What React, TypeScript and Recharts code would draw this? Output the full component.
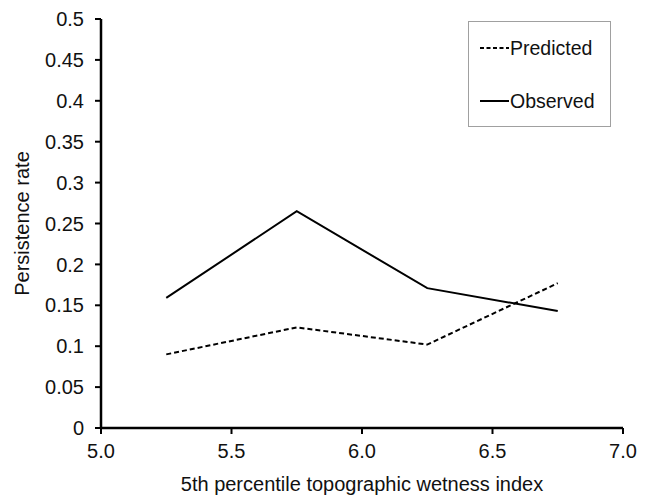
import { Line, LineChart, XAxis, YAxis } from "recharts";

const WETNESS = [5.25, 5.75, 6.25, 6.75];
const PREDICTED = [0.09, 0.123, 0.102, 0.177];
const OBSERVED = [0.159, 0.265, 0.171, 0.143];
const X_TICKS = [5, 5.5, 6, 6.5, 7];
const Y_TICKS = [0, 0.05, 0.1, 0.15, 0.2, 0.25, 0.3, 0.35, 0.4, 0.45, 0.5];
const SERIES = [
  { key: "predicted", name: "Predicted", dashed: true },
  { key: "observed", name: "Observed", dashed: false },
];

const FONT = "'Liberation Sans', Arial, sans-serif";
const DASH = "5 3";

const data = WETNESS.map((x, i) => ({ x, predicted: PREDICTED[i], observed: OBSERVED[i] }));

// legend drawn as a plain box over the plot, like the original
function LegendBox() {
  return (
    <div
      style={{
        position: "absolute", left: 468, top: 21, width: 141, height: 104,
        border: "1px solid #a0a0a0", background: "#fff",
        fontFamily: FONT, fontSize: 19.5, color: "#111",
      }}
    >
      {SERIES.map((s, i) => (
        <div key={s.key} style={{ position: "absolute", left: 11, top: 14 + i * 53, height: 24, display: "flex", alignItems: "center" }}>
          <svg width={29} height={4} style={{ display: "block" }}>
            <line x1={0} y1={2} x2={29} y2={2} stroke="#000" strokeWidth={2} strokeDasharray={s.dashed ? "4 2.5" : undefined} />
          </svg>
          <span style={{ marginLeft: 1 }}>{s.name}</span>
        </div>
      ))}
    </div>
  );
}

export default function App() {
  const tickStyle = { fill: "#111", fontSize: 20, fontFamily: FONT };
  return (
    <div style={{ position: "absolute", left: 0, top: 0, width: 651, height: 497, background: "#fff" }}>
      <LineChart width={651} height={497} data={data} margin={{ top: 19, right: 28, bottom: 0, left: 0 }}>
        <XAxis
          dataKey="x" type="number" domain={[5, 7]} ticks={X_TICKS}
          tickFormatter={(v: number) => v.toFixed(1)}
          height={69} tickSize={6} tickMargin={10}
          axisLine={{ stroke: "#000", strokeWidth: 2.5 }}
          tickLine={{ stroke: "#000", strokeWidth: 2 }}
          tick={tickStyle}
          label={{ value: "5th percentile topographic wetness index", position: "insideBottom", offset: 6, ...tickStyle }}
        />
        <YAxis
          type="number" domain={[0, 0.5]} ticks={Y_TICKS} width={101}
          tickSize={6} tickMargin={11}
          axisLine={{ stroke: "#000", strokeWidth: 2.5 }}
          tickLine={{ stroke: "#000", strokeWidth: 2 }}
          tick={tickStyle}
          label={{ value: "Persistence rate", angle: -90, position: "insideLeft", offset: 22, ...tickStyle, style: { textAnchor: "middle" } }}
        />
        {SERIES.map(s => (
          <Line
            key={s.key} dataKey={s.key} name={s.name} stroke="#000" strokeWidth={2}
            strokeDasharray={s.dashed ? DASH : undefined} dot={false} isAnimationActive={false}
          />
        ))}
      </LineChart>
      <LegendBox />
    </div>
  );
}
